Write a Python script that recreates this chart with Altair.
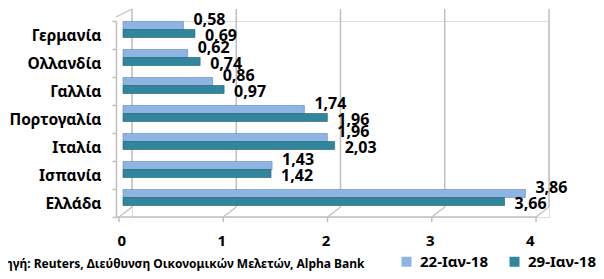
import altair as alt
import pandas as pd

categories = ["Γερμανία", "Ολλανδία", "Γαλλία", "Πορτογαλία", "Ιταλία", "Ισπανία", "Ελλάδα"]
series_names = ["22-Ιαν-18", "29-Ιαν-18"]
values_22 = [0.58, 0.62, 0.86, 1.74, 1.96, 1.43, 3.86]
values_29 = [0.69, 0.74, 0.97, 1.96, 2.03, 1.42, 3.66]
x_ticks = [0, 1, 2, 3, 4]
source_text = "Πηγή: Reuters, Διεύθυνση Οικονομικών Μελετών, Alpha Bank"

colors = ["#8DB4E3", "#31859C"]
strokes = ["#5F86BE", "#1F5E6F"]
FONT = "Noto Sans"
GRID = "#BFBFBF"

df1 = pd.DataFrame({"cat": categories, "v": values_22, "s": series_names[0]})
df2 = pd.DataFrame({"cat": categories, "v": values_29, "s": series_names[1]})
ticks = pd.DataFrame({"t": x_ticks})
span = pd.DataFrame({"a": [x_ticks[0]], "b": [x_ticks[-1]]})

xscale = alt.Scale(domain=[0, 4], nice=False, zero=True)
yscale = alt.Scale(domain=categories, paddingInner=0, paddingOuter=0)
cscale = alt.Scale(domain=series_names, range=colors)

XAX = alt.Axis(
    values=x_ticks, format="d", domain=False, ticks=False, grid=False, title=None,
    labelOffset=-15, labelPadding=16, labelFont=FONT, labelFontSize=15,
    labelFontWeight="bold", labelColor="black")
YAX = alt.Axis(
    title=None, offset=16, tickBand="extent", domainColor=GRID, tickColor=GRID,
    domainWidth=1.5, tickWidth=1.5, tickSize=4, labelPadding=11, labelFont=FONT,
    labelFontSize=15.5, labelFontWeight="bold", labelColor="black", grid=False)


def xq(field):
    return alt.X(field, scale=xscale, axis=XAX)


def yc():
    return alt.Y("cat:N", sort=categories, scale=yscale, axis=YAX)


grid = alt.Chart(ticks).mark_rule(color=GRID, strokeWidth=1.5).encode(
    x=xq("t:Q"), y=alt.value(-12), y2=alt.value(186))
floor = alt.Chart(ticks).mark_rule(color=GRID, strokeWidth=1.2, xOffset=-13, x2Offset=0).encode(
    x=xq("t:Q"), x2="t:Q", y=alt.value(196), y2=alt.value(186))
front_ticks = alt.Chart(ticks).mark_rule(color=GRID, strokeWidth=1.5, xOffset=-13).encode(
    x=xq("t:Q"), y=alt.value(196), y2=alt.value(201))
front_line = alt.Chart(span).mark_rule(color=GRID, strokeWidth=1.5, xOffset=-16, x2Offset=-13).encode(
    x=xq("a:Q"), x2="b:Q", y=alt.value(196))
wall_top = alt.Chart(span).mark_rule(color=GRID, strokeWidth=1.2, xOffset=-16, x2Offset=0).encode(
    x=xq("a:Q"), x2="a:Q", y=alt.value(-4), y2=alt.value(-12))

color = alt.Color("s:N", scale=cscale, title=None, legend=alt.Legend(
    orient="none", legendX=267, legendY=233, direction="horizontal", padding=0,
    symbolType="square", symbolSize=100, symbolStrokeWidth=0, labelFont=FONT,
    labelFontSize=15, labelFontWeight="bold", labelColor="black",
    labelOffset=6, columnPadding=19))

bars1 = alt.Chart(df1).mark_bar(height=8, yOffset=-9.5, xOffset=-9, x2Offset=-7,
                                stroke=strokes[0], strokeWidth=0.6).encode(x=xq("v:Q"), y=yc(), color=color)
bars2 = alt.Chart(df2).mark_bar(height=8, yOffset=-1.5, xOffset=-9, x2Offset=-7,
                                stroke=strokes[1], strokeWidth=0.6).encode(x=xq("v:Q"), y=yc(), color=color)


def labels(df, dy):
    return alt.Chart(df).transform_calculate(
        lab="replace(format(datum.v, '.2f'), '.', ',')"
    ).mark_text(align="left", baseline="middle", dx=1, dy=dy, font=FONT,
                fontSize=16, fontWeight="bold", color="black").encode(
        x=xq("v:Q"), y=yc(), text="lab:N")


lab1 = labels(df1, -15)
lab2 = labels(df2, 1)

src = alt.Chart(pd.DataFrame({"txt": [source_text]})).mark_text(
    align="left", baseline="middle", font=FONT, fontSize=12, fontWeight="bold", color="black"
).encode(x=alt.value(-136), y=alt.value(243), text="txt:N")

chart = alt.layer(grid, floor, front_line, front_ticks, wall_top, bars1, bars2, lab1, lab2, src).properties(
    width=417, height=196,
    autosize=alt.AutoSizeParams(type="none"),
    padding={"left": 124, "top": 13, "right": 47, "bottom": 54},
).configure_view(stroke=None).configure(background="white")

chart.save("out.html", embed_options={"renderer": "svg", "actions": False})
